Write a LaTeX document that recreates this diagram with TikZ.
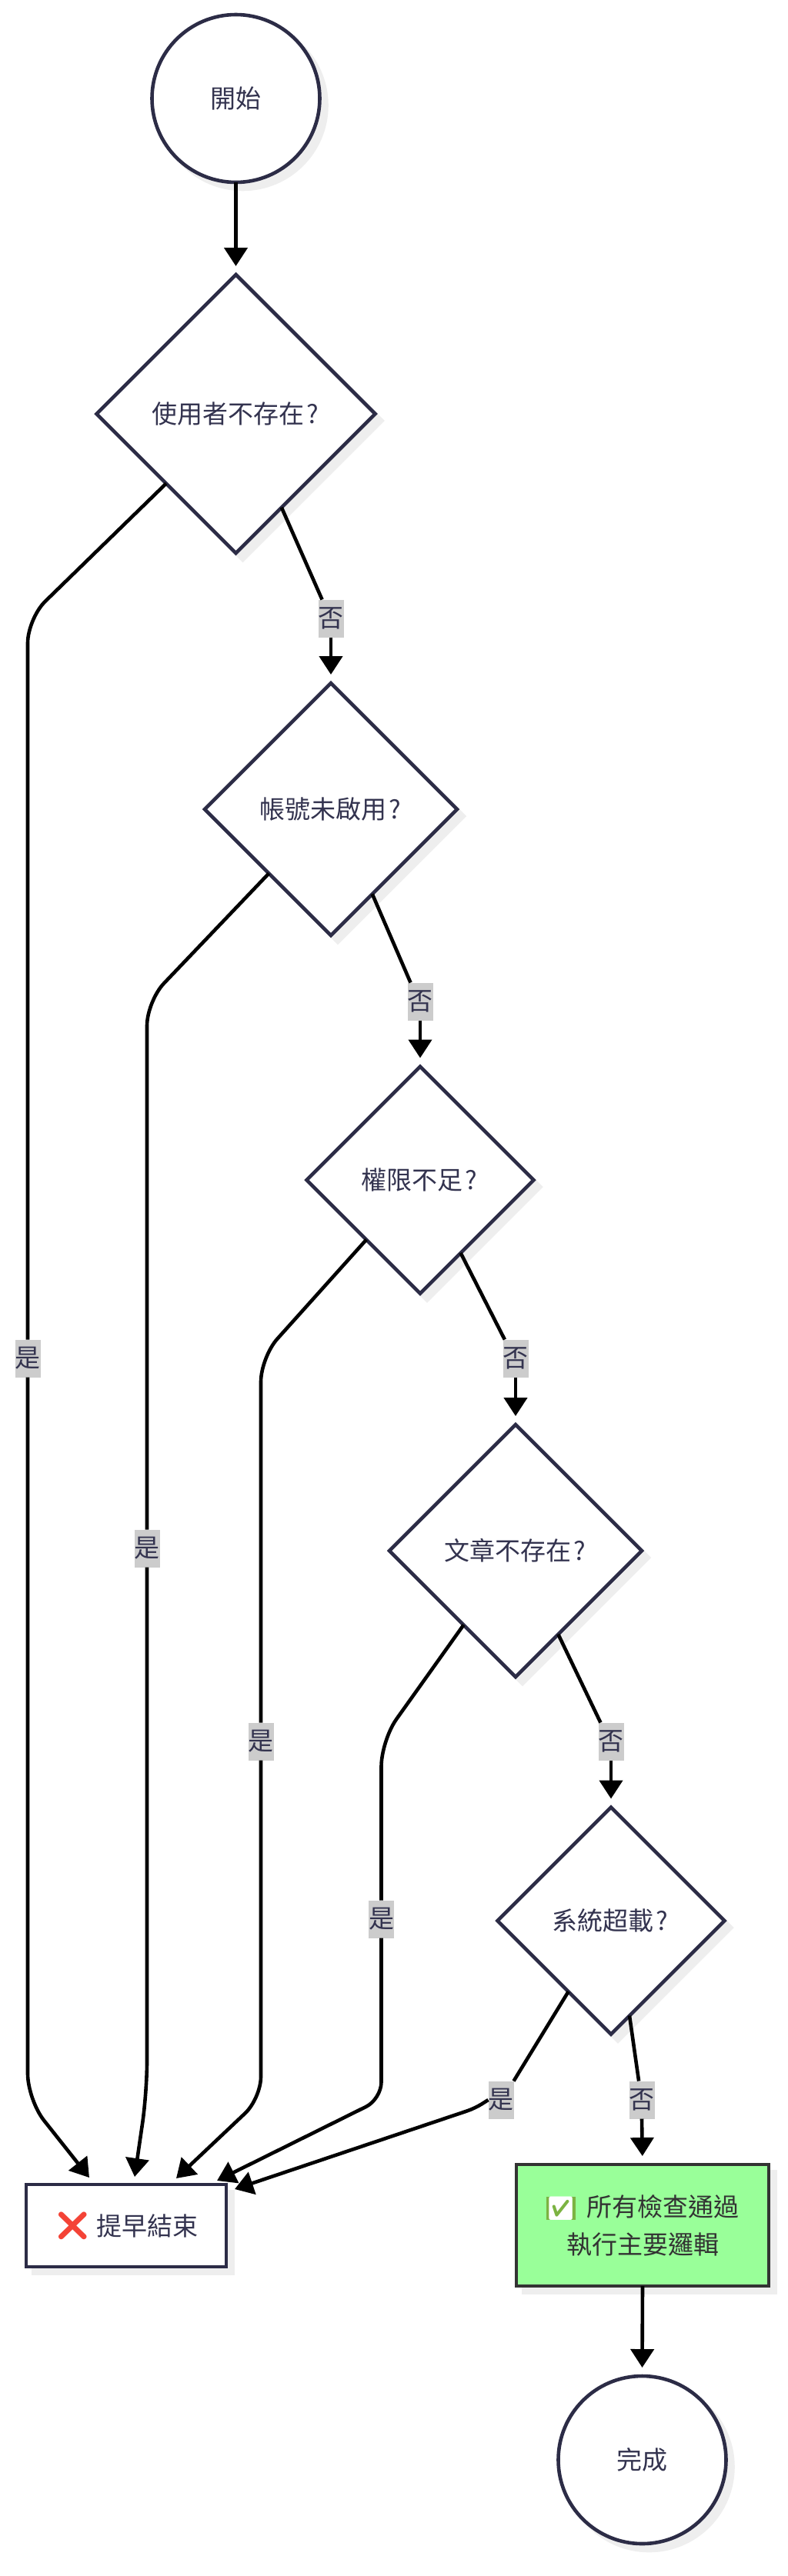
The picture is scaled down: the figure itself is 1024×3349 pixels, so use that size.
\documentclass[tikz,border=0pt]{standalone}
\usepackage{fontspec}
\usepackage{xcolor}
\usepackage{tikz}
\usetikzlibrary{arrows.meta,shapes.geometric,shadows}
\setmainfont{Noto Sans CJK TC}
\newfontfamily\emojifont{Noto Emoji}
\definecolor{nodeline}{HTML}{2C2C46}
\definecolor{nodetext}{HTML}{33334F}
\definecolor{shadowgray}{HTML}{EEEEEE}
\definecolor{labelgray}{HTML}{CCCCCC}
\definecolor{passfill}{HTML}{99FF99}
\definecolor{passline}{HTML}{333333}
\definecolor{crossred}{HTML}{F44336}
\definecolor{tickgreen}{HTML}{7CB342}
\newcommand{\crossmark}{{\fontsize{37}{49}\emojifont\textcolor{crossred}{❌}}}
\newcommand{\tickmark}{{\setlength{\fboxsep}{0pt}\fontsize{30}{49}\colorbox{tickgreen}{\emojifont\textcolor{white}{✅}}}}
\newcommand{\ask}{\kern3pt?\kern2pt}

\begin{document}
\begin{tikzpicture}[
      x=1pt, y=-1pt,
      font=\fontsize{33}{49}\selectfont,
      shape base/.style={draw=nodeline, fill=white, text=nodetext, line width=4.6pt,
                  inner sep=0pt, outer sep=0pt, align=center,
                  drop shadow={shadow xshift=9pt, shadow yshift=-9pt, opacity=1,
                               fill=shadowgray, draw=shadowgray}},
      roundbox/.style={shape base, circle, minimum size=218pt},
      bigcheck/.style={shape base, diamond, aspect=1, minimum size=#1},
      endbox/.style={shape base, rectangle, minimum width=260pt, minimum height=107pt},
      passbox/.style={shape base, rectangle, draw=passline, fill=passfill, text=passline,
                  minimum width=328pt, minimum height=158pt},
      edgelabel/.style={fill=labelgray, text=nodetext, inner sep=0pt, outer sep=0pt,
                  minimum width=33pt, minimum height=49pt},
      link/.style={draw=black, line width=4.6pt},
      arrow/.style={link, ->, shorten >=11pt},
      >={Triangle[length=24pt,width=30pt]}]

    \useasboundingbox (0,0) rectangle (1024,3349);

    \node[roundbox] (start) at (306.5,128) {開始};
    \node[bigcheck=362pt] (usercheck) at (306.5,538) {使用者不存在\ask};
    \node[bigcheck=328pt] (activecheck) at (430,1052) {帳號未啟用\ask};
    \node[bigcheck=295pt] (permcheck) at (546,1534) {權限不足\ask};
    \node[bigcheck=328pt] (postcheck) at (670,2016) {文章不存在\ask};
    \node[bigcheck=295pt] (loadcheck) at (794,2497) {系統超載\ask};
    \node[endbox] (earlyend) at (164,2893.5) {\crossmark\ 提早結束};
    \node[passbox] (pass) at (835,2893) {\tickmark\ \ 所有檢查通過\\執行主要邏輯};
    \node[roundbox] (done) at (834.5,3198) {完成};

    \node[edgelabel] (no1) at (430,804) {否};
    \node[edgelabel] (no2) at (546,1302) {否};
    \node[edgelabel] (no3) at (670,1766) {否};
    \node[edgelabel] (no4) at (794,2264) {否};
    \node[edgelabel] (no5) at (834,2730) {否};
    \node[edgelabel] (yes1) at (36,1766) {是};
    \node[edgelabel] (yes2) at (191,2013) {是};
    \node[edgelabel] (yes3) at (339,2264) {是};
    \node[edgelabel] (yes4) at (495.5,2495) {是};
    \node[edgelabel] (yes5) at (651,2730) {是};

    \coordinate (in1) at (116,2831);
    \coordinate (in2) at (175,2830);
    \coordinate (in3) at (229,2832);
    \coordinate (in4) at (282,2835);
    \coordinate (in5) at (305,2846);

    \draw[arrow] (start.south) -- (usercheck.north);
    \draw[link] (usercheck.-64.6) -- (no1.115);
    \draw[arrow] (no1.south) -- (activecheck.north);
    \draw[link] (activecheck.-64.5) -- (no2.117);
    \draw[arrow] (no2.south) -- (permcheck.north);
    \draw[link] (permcheck.-61.4) -- (no3.120);
    \draw[arrow] (no3.south) -- (postcheck.north);
    \draw[link] (postcheck.-63) -- (no4.119);
    \draw[arrow] (no4.south) -- (loadcheck.north);
    \draw[link] (loadcheck.-79.5) -- (no5.99);
    \draw[arrow] (no5.south) -- (pass.north);
    \draw[arrow] (pass.south) -- (done.north);

    \draw[link, rounded corners=32pt] (usercheck.225) -- (36,804) -- (yes1.north);
    \draw[link, ->, rounded corners=34pt] (yes1.south) -- (36,2730) -- (in1);
    \draw[link, rounded corners=32pt] (activecheck.226.5) -- (191,1301.5) -- (yes2.north);
    \draw[link, ->, rounded corners=40pt] (yes2.south) -- (191,2720) -- (in2);
    \draw[link, rounded corners=32pt] (permcheck.228.4) -- (339,1764.4) -- (yes3.north);
    \draw[link, ->, rounded corners=28pt] (yes3.south) -- (339,2728) -- (in3);
    \draw[link, rounded corners=34pt] (postcheck.235) -- (495.5,2262.6) -- (yes4.north);
    \draw[link, ->, rounded corners=22pt] (yes4.south) -- (495.5,2729) -- (in4);
    \draw[link] (loadcheck.239) -- (yes5.north east);
    \draw[link, ->, rounded corners=10pt] (yes5.west) -- (617,2741) -- (in5);
\end{tikzpicture}
\end{document}
